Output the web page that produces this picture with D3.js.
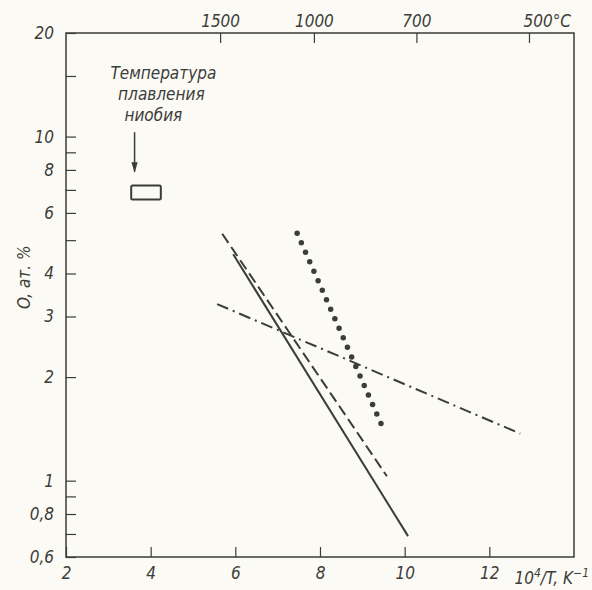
<!DOCTYPE html>
<html>
<head>
<meta charset="utf-8">
<script src="https://cdn.jsdelivr.net/npm/d3@7"></script>
<style>
  body { margin: 0; background: #fbfaf4; }
  svg { display: block; }
  .ax text { font-family: "Liberation Sans Narrow", "DejaVu Sans Condensed", "DejaVu Sans", sans-serif; font-style: italic; font-size: 17px; fill: #3b3d3a; }
</style>
</head>
<body>
<div id="chart"></div>
<script>
// Data (x = 10^4/T, y = O, at.%)
const yTicks = [20, 15, 10, 9, 8, 7, 6, 5, 4, 3, 2, 1, 0.9, 0.8, 0.7, 0.6];
const yLabels = [20, 10, 8, 6, 4, 3, 2, 1, 0.8, 0.6];
const xTicks = [2, 4, 6, 8, 10, 12];
const tempTicks = [1500, 1000, 700, 500];   // °C on top axis

const solidLine = [[5.95, 4.55], [10.08, 0.69]];
const dashedLine = [[5.69, 5.22], [9.58, 1.03]];
const dottedLine = [[7.46, 5.24], [9.49, 1.42]];
const dashDotLine = [[5.57, 3.26], [12.73, 1.37]];

const meltBox = { x0: 3.54, x1: 4.24, y0: 6.56, y1: 7.21 };
const meltArrow = [[3.62, 10.3], [3.62, 7.9]];
const meltText = ["Температура", "плавления", "ниобия"];

// Space
const W = 592, H = 590;
const margin = { top: 33, right: 18, bottom: 33, left: 66 };
const width = W - margin.left - margin.right,
      height = H - margin.top - margin.bottom;
const ink = "#3b3d3a";
const font = "'Liberation Sans Narrow', 'DejaVu Sans Condensed', sans-serif";

const svg = d3.select("#chart").append("svg")
    .attr("width", W).attr("height", H)
    .append("g")
    .attr("transform", `translate(${margin.left},${margin.top})`);

const x = d3.scaleLinear().domain([2, 14]).range([0, width]);
const y = d3.scaleLog().domain([0.6, 20]).range([height, 0]);

// Frame
svg.append("rect")
    .attr("width", width).attr("height", height)
    .attr("fill", "none").attr("stroke", ink).attr("stroke-width", 1.5);

const fmt = d => yLabels.includes(d) ? String(d).replace(".", ",") : "";

const yAxis = svg.append("g").attr("class", "ax")
    .call(d3.axisLeft(y).tickValues(yTicks).tickFormat(fmt).tickSize(-10).tickPadding(12));

const xAxis = svg.append("g").attr("class", "ax")
    .attr("transform", `translate(0,${height})`)
    .call(d3.axisBottom(x).tickValues(xTicks).tickFormat(d3.format("d")).tickSize(-10).tickPadding(10));

const topAxis = svg.append("g").attr("class", "ax")
    .call(d3.axisTop(x).tickValues(tempTicks.map(t => 1e4 / (t + 273)))
        .tickFormat((d, i) => i === tempTicks.length - 1 ? tempTicks[i] + "°C" : tempTicks[i])
        .tickSize(-10).tickPadding(6));
topAxis.selectAll(".tick").filter((d, i) => i === tempTicks.length - 1)
    .select("text").attr("text-anchor", "start").attr("dx", -6);

[yAxis, xAxis, topAxis].forEach(a => {
    a.select(".domain").remove();
    a.selectAll("line").attr("stroke", ink).attr("stroke-width", 1.2);
});

// x axis title
svg.append("text")
    .attr("x", width + margin.right - 3).attr("y", height + 27)
    .attr("text-anchor", "end")
    .style("font-family", font)
    .style("font-style", "italic").style("font-size", "17px").style("fill", ink)
    .html("10<tspan dy='-7' font-size='12'>4</tspan><tspan dy='7'>/T, K</tspan><tspan dy='-7' font-size='12'>−1</tspan>");

// y axis title
svg.append("text")
    .attr("transform", `translate(${-36},${y(3.9)}) rotate(-90)`)
    .attr("text-anchor", "middle")
    .style("font-family", font)
    .style("font-style", "italic").style("font-size", "17px").style("fill", ink)
    .text("O, ат. %");

// Lines
const line = d3.line().x(p => x(p[0])).y(p => y(p[1]));

svg.append("path").datum(solidLine)
    .attr("d", line).attr("fill", "none").attr("stroke", ink).attr("stroke-width", 2);

svg.append("path").datum(dashedLine)
    .attr("d", line).attr("fill", "none").attr("stroke", ink).attr("stroke-width", 2)
    .attr("stroke-dasharray", "11,5");

svg.append("path").datum(dottedLine)
    .attr("d", line).attr("fill", "none").attr("stroke", ink).attr("stroke-width", 5.5)
    .attr("stroke-linecap", "round").attr("stroke-dasharray", "0,10.4");

svg.append("path").datum(dashDotLine)
    .attr("d", line).attr("fill", "none").attr("stroke", ink).attr("stroke-width", 2)
    .attr("stroke-dasharray", "12,5,2,5");

// Niobium melting point marker
svg.append("rect")
    .attr("x", x(meltBox.x0)).attr("y", y(meltBox.y1))
    .attr("width", x(meltBox.x1) - x(meltBox.x0))
    .attr("height", y(meltBox.y0) - y(meltBox.y1))
    .attr("rx", 1.5)
    .attr("fill", "none").attr("stroke", ink).attr("stroke-width", 2);

svg.append("defs").append("marker")
    .attr("id", "arr").attr("viewBox", "0 0 10 10")
    .attr("refX", 9).attr("refY", 5)
    .attr("markerWidth", 7).attr("markerHeight", 10)
    .attr("orient", "auto")
    .append("path").attr("d", "M0,2 L10,5 L0,8 Z").attr("fill", ink);

svg.append("path").datum(meltArrow)
    .attr("d", line).attr("stroke", ink).attr("stroke-width", 1.5)
    .attr("marker-end", "url(#arr)");

svg.append("g").selectAll("text")
    .data(meltText)
    .join("text")
    .attr("x", (d, i) => x(4.3) + [0, -2, -10][i])
    .attr("y", (d, i) => y(15) + 3 + i * 21)
    .attr("text-anchor", "middle")
    .style("font-family", font)
    .style("font-style", "italic").style("font-size", "17px").style("fill", ink)
    .text(d => d);
</script>
</body>
</html>
